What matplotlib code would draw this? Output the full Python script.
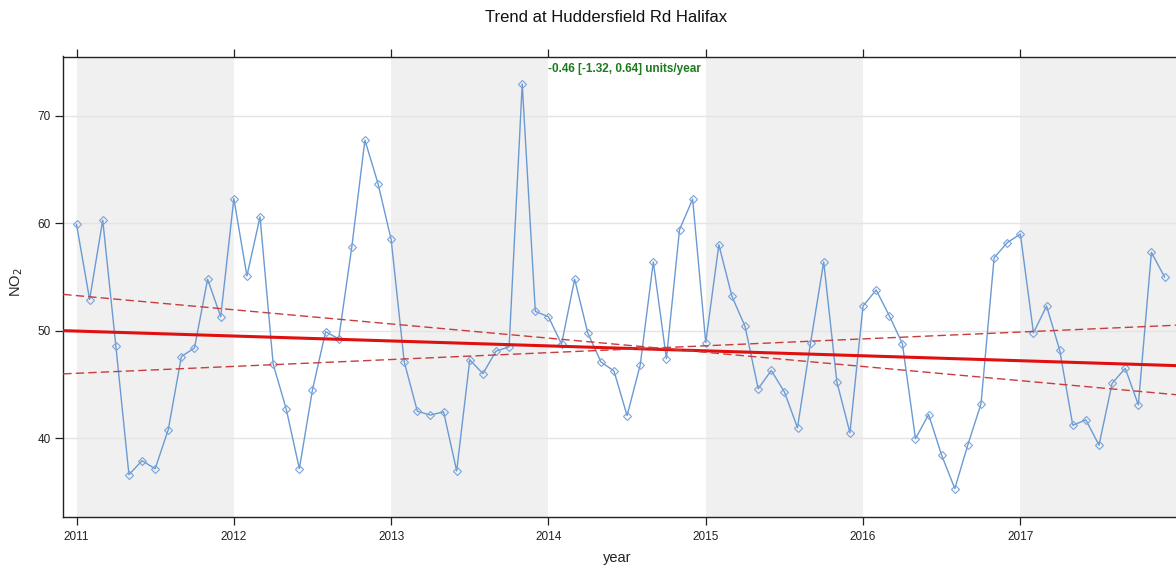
import matplotlib
matplotlib.use("Agg")
import matplotlib.pyplot as plt
import numpy as np

plt.rcParams['font.family'] = ['Liberation Sans', 'DejaVu Sans']

# ---- data ----
start_year = 2011
no2 = [59.9, 52.9, 60.3, 48.6, 36.6, 37.9, 37.15, 40.8, 47.6, 48.4, 54.8, 51.3,
       62.3, 55.1, 60.6, 46.9, 42.7, 37.15, 44.5, 49.9, 49.25, 57.8, 67.75, 63.7,
       58.5, 47.1, 42.5, 42.15, 42.45, 36.95, 47.3, 46.0, 48.1, 48.5, 72.97, 51.8,
       51.3, 48.76, 54.8, 49.8, 47.1, 46.25, 42.1, 46.8, 56.4, 47.4, 59.4, 62.26,
       48.9, 58.0, 53.2, 50.4, 44.6, 46.3, 44.3, 40.97, 48.9, 56.4, 45.25, 40.5,
       52.3, 53.8, 51.4, 48.8, 39.95, 42.2, 38.4, 35.3, 39.4, 43.2, 56.8, 58.2,
       59.0, 49.8, 52.3, 48.2, 41.2, 41.7, 39.35, 45.1, 46.5, 43.1, 57.3, 55.0]
year_ticks = [2011, 2012, 2013, 2014, 2015, 2016, 2017]
y_ticks = [40, 50, 60, 70]
slope = -0.46
slope_lower = -1.32
slope_upper = 0.64
pivot_year = 2014.69
pivot_trend = 48.27
pivot_ci = 48.40
title = "Trend at Huddersfield Rd Halifax"
annotation = "-0.46 [-1.32, 0.64] units/year"

t = start_year + np.arange(len(no2)) / 12.0

W, H = 1176, 568
fig = plt.figure(figsize=(W / 100, H / 100), dpi=100)
x0, x1 = 63.3, 1177.5
y0, y1 = 56.5, 517.3
ax = fig.add_axes([x0 / W, 1 - y1 / H, (x1 - x0) / W, (y1 - y0) / H])

xlim = (2010.916, 2017.999)
ylim = (32.63, 75.53)
ax.set_xlim(*xlim)
ax.set_ylim(*ylim)

# alternating year shading
for i, yr in enumerate(year_ticks):
    if i % 2 == 0:
        ax.axvspan(yr, yr + 1, color='#F0F0F0', lw=0, zorder=0)

# horizontal grid
for v in y_ticks:
    ax.axhline(v, color='#E4E4E4', lw=1.0, zorder=0.5)

# data
ax.plot(t, no2, color='#6A9AD4', lw=1.0, zorder=2)
ax.plot(t, no2, ls='none', marker='D', ms=4, mfc='none', mec='#7BA3D6', mew=0.8, zorder=3)

# trend lines
xx = np.array(xlim)
ax.plot(xx, pivot_trend + slope * (xx - pivot_year), color='#E01010', lw=2.2, zorder=4)
ax.plot(xx, pivot_ci + slope_lower * (xx - pivot_year), color='#C83C3C', lw=1.0,
        ls=(0, (6, 3)), zorder=4)
ax.plot(xx, pivot_ci + slope_upper * (xx - pivot_year), color='#C83C3C', lw=1.0,
        ls=(0, (6, 3)), zorder=4)

# axes styling
ax.set_xticks(year_ticks)
ax.set_xticklabels([str(y) for y in year_ticks])
ax.set_yticks(y_ticks)
ax.tick_params(axis='x', which='both', direction='out', length=6, width=0.9,
               top=True, labeltop=False, labelsize=8.5, colors='#222222', pad=4)
ax.tick_params(axis='y', direction='out', length=6, width=0.9, labelsize=8.5,
               colors='#222222', pad=3)
for s in ax.spines.values():
    s.set_color('#222222')
    s.set_linewidth(1.0)
ax.spines['right'].set_visible(False)

ax.text((624 - x0) / (x1 - x0), 1 - (69 - y0) / (y1 - y0), annotation,
        transform=ax.transAxes, ha='center', va='center', color='#1F7A1F',
        fontsize=8.5, fontweight='bold')

fig.text(605.6 / W, 1 - 17 / H, title, ha='center', va='center', fontsize=12, color='#111111')
fig.text(617 / W, 1 - 558 / H, 'year', ha='center', va='center', fontsize=10.5, color='#222222')
fig.text(17 / W, 1 - 282 / H, r'NO$_2$', ha='center', va='center', rotation=90,
         fontsize=10.5, color='#222222')

fig.savefig('out.png', dpi=100)
